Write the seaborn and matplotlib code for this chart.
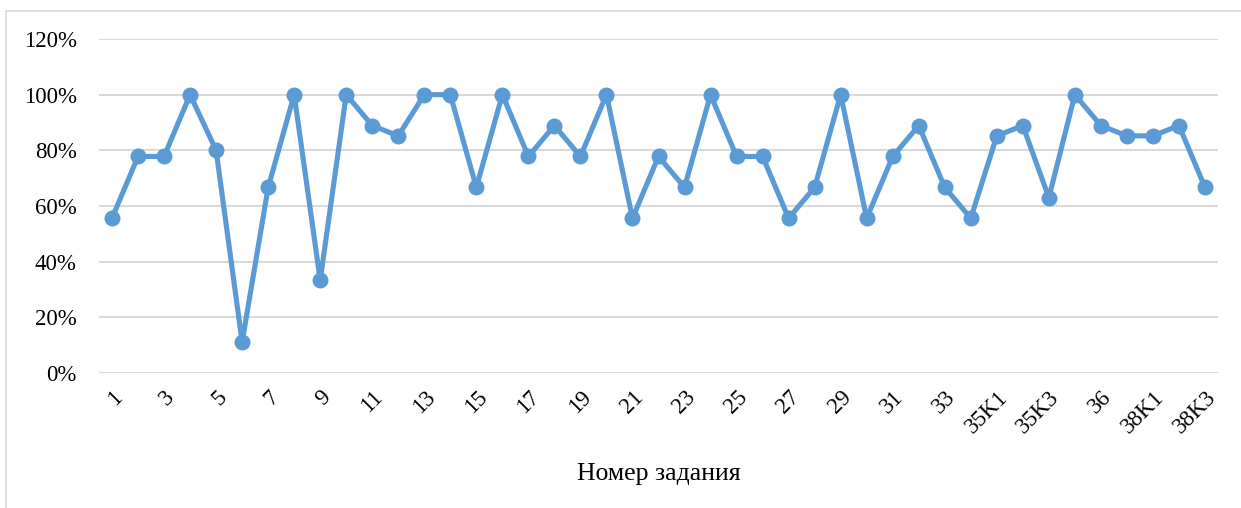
import matplotlib
matplotlib.use('Agg')
import matplotlib.pyplot as plt
import seaborn as sns
import numpy as np
import pandas as pd
from matplotlib.lines import Line2D
from matplotlib.ticker import PercentFormatter

# task numbers and share of correct answers (%)
tasks = [str(i) for i in range(1, 35)] + ['35K1', '35K2', '35K3', '35K4', '36', '37',
                                          '38K1', '38K2', '38K3']
percent = [55.6, 77.8, 77.8, 100, 80, 11.1, 66.7, 100, 33.3, 100,
           88.9, 85.2, 100, 100, 66.7, 100, 77.8, 88.9, 77.8, 100,
           55.6, 77.8, 66.7, 100, 77.8, 77.8, 55.6, 66.7, 100, 55.6,
           77.8, 88.9, 66.7, 55.6,
           85.2, 88.9, 63.0, 100, 88.9, 85.2, 85.2, 88.9, 66.7]
y_ticks = [0, 20, 40, 60, 80, 100, 120]
x_title = 'Номер задания'

df = pd.DataFrame({'task': tasks, 'value': percent})
df['pos'] = np.arange(len(df))

sns.set_style('white')
plt.rcParams['font.family'] = ['Liberation Serif', 'DejaVu Serif']
plt.rcParams['text.color'] = 'black'
plt.rcParams['xtick.color'] = 'black'
plt.rcParams['ytick.color'] = 'black'
plt.rcParams['axes.labelcolor'] = 'black'

fig = plt.figure(figsize=(12.41, 5.08), dpi=100)
ax = fig.add_axes([99 / 1241, 1 - 373 / 508, 1119 / 1241, 334 / 508])

blue = '#5B9BD5'
sns.lineplot(data=df, x='pos', y='value', ax=ax, color=blue, linewidth=3.7,
             marker='o', markersize=11.5, markeredgewidth=0, zorder=3)

ax.set_xlim(-0.5, len(df) - 0.5)
ax.set_ylim(0, 120)
ax.set_yticks(y_ticks)
ax.yaxis.set_major_formatter(PercentFormatter(decimals=0))
ax.yaxis.grid(True, color='#D9D9D9', linewidth=1.5)
ax.xaxis.grid(False)
for s in ax.spines.values():
    s.set_visible(False)

show = df['pos'][::2]
ax.set_xticks(show)
ax.set_xticklabels(df['task'][::2], rotation=45, ha='right', va='top',
                   rotation_mode='anchor')
ax.tick_params(axis='x', length=0, pad=10, labelsize=16.5, labelcolor='black')
ax.tick_params(axis='y', length=0, pad=16, labelsize=16.5, labelcolor='black')
ax.set_xlabel(x_title, fontsize=18.5, labelpad=18, color='black')
ax.set_ylabel('')

# light frame of the chart area (cropped on right/bottom)
x0, y0 = 6 / 1241, 1 - 10.5 / 508
fig.add_artist(Line2D([x0, x0], [0, y0], color='#D9D9D9', linewidth=1.2))
fig.add_artist(Line2D([x0, 1], [y0, y0], color='#D9D9D9', linewidth=1.2))

fig.savefig('out.png', dpi=100)
